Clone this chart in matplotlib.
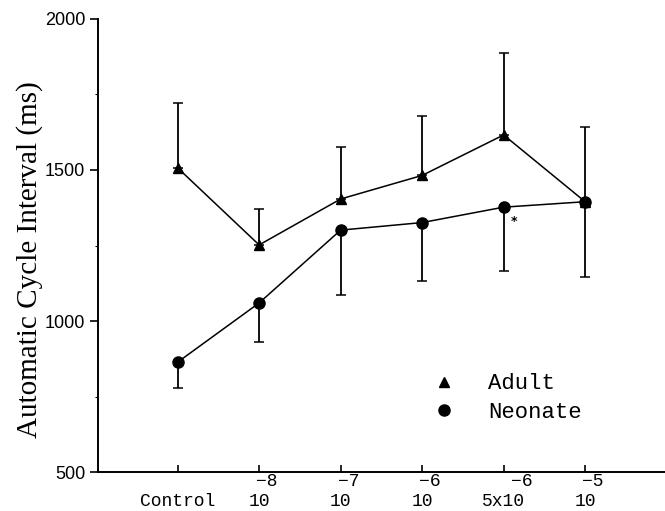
import matplotlib
matplotlib.use("Agg")
import matplotlib.pyplot as plt
import matplotlib.transforms as mtransforms
from matplotlib.lines import Line2D

# ---- data --------------------------------------------------------------
dose_base = ["Control", "10", "10", "10", "5x10", "10"]
dose_exp = ["", "−8", "−7", "−6", "−6", "−5"]
adult = [1507, 1252, 1404, 1482, 1616, 1395]
adult_err = [215, 120, 172, 197, 271, 247]      # upper bars only
neonate = [864, 1060, 1301, 1326, 1377, 1395]
neonate_err = [86, 130, 215, 193, 211, 249]     # lower bars only

MONO = ["Liberation Mono", "DejaVu Sans Mono"]

fig = plt.figure(figsize=(6.65, 5.11), dpi=100)
ax = fig.add_axes([0.147, 0.076, 0.853, 0.887])

x = list(range(len(dose_base)))
ax.errorbar(x, adult, yerr=[[0] * len(x), adult_err], fmt="-^", color="black",
            lw=1.1, elinewidth=1.3, capsize=3.5, capthick=1.1, ms=7.5, zorder=3)
ax.errorbar(x, neonate, yerr=[neonate_err, [0] * len(x)], fmt="-o", color="black",
            lw=1.1, elinewidth=1.3, capsize=3.5, capthick=1.1, ms=8, zorder=3)
ax.text(x[4] + 0.09, neonate[4] - 25, "*", fontsize=9, fontweight="bold",
        ha="left", va="top")

ax.set_xlim(-0.98, 5.98)
ax.set_ylim(500, 2000)
ax.set_xticks(x)
ax.set_xticklabels(dose_base, family=MONO, fontsize=13)
ax.set_yticks([500, 1000, 1500, 2000])
ax.set_yticks([750, 1250, 1750], minor=True)
ax.tick_params(axis="y", which="major", direction="out", length=6, width=1.2,
               labelsize=13, pad=3)
ax.tick_params(axis="y", which="minor", direction="out", length=2, width=0.8)
ax.tick_params(axis="x", direction="in", length=5, width=1.2, pad=15)
for lab in ax.get_yticklabels():
    lab.set_family("Liberation Sans")

# exponents of the dose labels, written full-size as in the original
trans = mtransforms.blended_transform_factory(ax.transData, ax.transAxes)
for xi, base, ex in zip(x, dose_base, dose_exp):
    if not ex:
        continue
    half = len(base) * 0.6 * 13 / 2          # half-width of base text, pt
    ax.annotate(ex, (xi, 0), xycoords=trans, textcoords="offset points",
                xytext=(half - 10, -12.5), ha="left", va="bottom",
                family=MONO, fontsize=13, annotation_clip=False)

ax.set_ylabel("Automatic Cycle Interval (ms)", family="Liberation Serif",
              fontsize=21)
ax.yaxis.set_label_coords(-0.097, 0.47)
for s in ("top", "right"):
    ax.spines[s].set_visible(False)
for s in ("left", "bottom"):
    ax.spines[s].set_linewidth(1.4)

hl = [Line2D([], [], marker="^", color="black", ls="none", ms=7.5),
      Line2D([], [], marker="o", color="black", ls="none", ms=8)]
ax.legend(hl, ["Adult", "Neonate"], loc="center left",
          bbox_to_anchor=(0.594, 0.163), frameon=False,
          prop={"family": MONO, "size": 16}, handlelength=0.8,
          handletextpad=1.6, labelspacing=0.35, borderaxespad=0, borderpad=0)

fig.savefig("out.png", dpi=100)
